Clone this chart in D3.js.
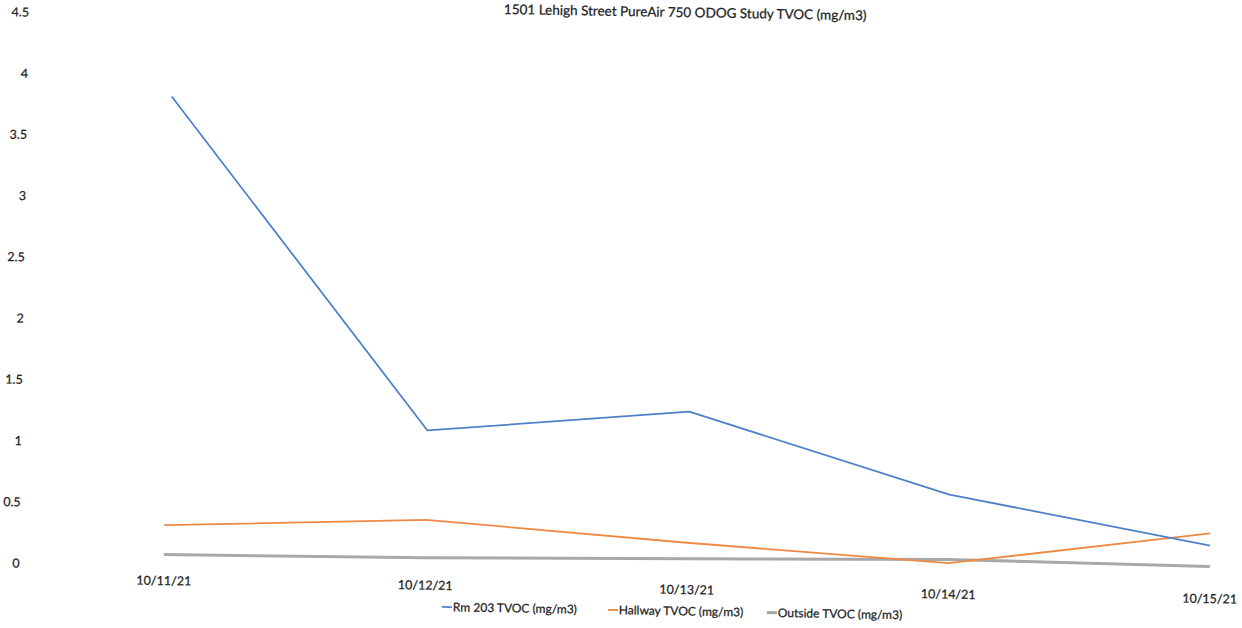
<!DOCTYPE html>
<html>
<head>
<meta charset="utf-8">
<script src="https://cdn.jsdelivr.net/npm/d3@7"></script>
<style>
  html, body { margin: 0; padding: 0; background: #fff; }
  svg { display: block; }
  text { font-family: Lato, "Open Sans", sans-serif; fill: #1e1e1e; stroke: #1e1e1e; stroke-width: 0.25px; }
</style>
</head>
<body>
<svg id="chart" width="1242" height="628"></svg>
<script>
// Sampling days
const dates = ["10/11/21", "10/12/21", "10/13/21", "10/14/21", "10/15/21"];

// TVOC readings, mg/m3
const rm203   = [3.83, 1.14, 1.33, 0.69, 0.31];
const hallway = [0.33, 0.41, 0.26, 0.13, 0.41];
const outside = [0.09, 0.10, 0.13, 0.16, 0.14];

const seriesNames = ["Rm 203 TVOC (mg/m3)", "Hallway TVOC (mg/m3)", "Outside TVOC (mg/m3)"];
const yTicks = [0, 0.5, 1, 1.5, 2, 2.5, 3, 3.5, 4, 4.5];
const title = "1501 Lehigh Street PureAir 750 ODOG Study TVOC (mg/m3)";

const W = 1242, H = 628;
const svg = d3.select("#chart");
// whole page sits slightly tilted
const root = svg.append("g").attr("transform", `rotate(0.99, ${W / 2}, ${H / 2})`);

const x = d3.scalePoint().domain(dates).range([168, 1214]);
const y = d3.scaleLinear().domain([0, 4.5]).range([573.4, 22.3]);

// title
root.append("text")
  .attr("x", 680).attr("y", 16)
  .attr("text-anchor", "middle")
  .attr("font-size", 13.5)
  .text(title);

// value axis: labels only
const yAxis = root.append("g")
  .attr("transform", "translate(24,0)")
  .call(d3.axisLeft(y).tickValues(yTicks).tickSize(0).tickPadding(0).tickFormat(d => String(d)));
yAxis.select(".domain").remove();
yAxis.selectAll("text").attr("font-size", 12.5).style("font-family", "Lato, sans-serif");

// category axis: labels only
const xAxis = root.append("g")
  .attr("transform", "translate(0,584)")
  .call(d3.axisBottom(x).tickSize(0).tickPadding(0));
xAxis.select(".domain").remove();
xAxis.selectAll("text").attr("font-size", 12.5).style("font-family", "Lato, sans-serif");

const series = [
  { name: seriesNames[0], values: rm203,   color: "#4f81c9", width: 1.8 },
  { name: seriesNames[1], values: hallway, color: "#ee8a45", width: 1.8 },
  { name: seriesNames[2], values: outside, color: "#a8a8a8", width: 3 }
];

const line = d3.line()
  .x((d, i) => x(dates[i]))
  .y(d => y(d));

// draw outside first so the indoor lines sit on top
[series[2], series[1], series[0]].forEach(s => {
  root.append("path")
    .datum(s.values)
    .attr("d", line)
    .attr("fill", "none")
    .attr("stroke", s.color)
    .attr("stroke-width", s.width)
    .attr("stroke-linejoin", "round");
});

// legend
const legendX = [447, 613, 772];
const legend = root.append("g").attr("transform", "translate(0,610)");
series.forEach((s, i) => {
  const g = legend.append("g").attr("transform", `translate(${legendX[i]},0)`);
  g.append("line")
    .attr("x1", 0).attr("x2", 10).attr("y1", 0).attr("y2", 0)
    .attr("stroke", s.color).attr("stroke-width", i === 2 ? 3 : 1.8);
  g.append("text")
    .attr("x", 11).attr("y", 0).attr("dy", "0.35em")
    .attr("font-size", 12)
    .text(s.name);
});
</script>
</body>
</html>
